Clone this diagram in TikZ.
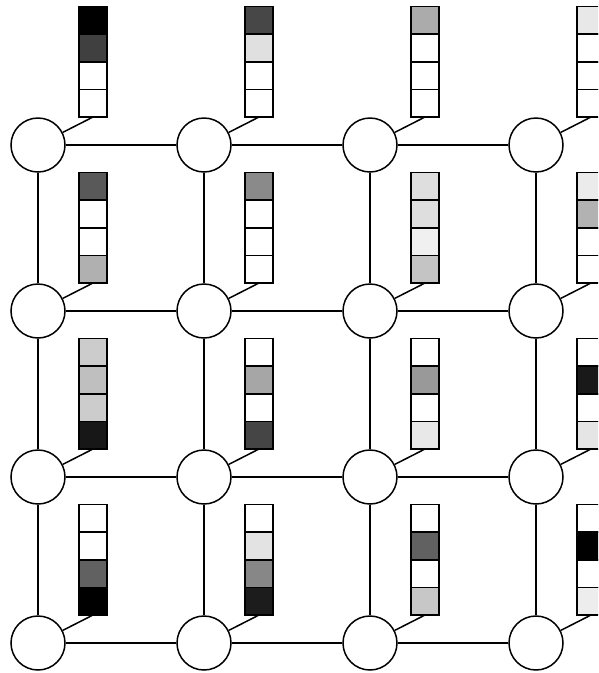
\documentclass[tikz,border=0pt]{standalone}
\usetikzlibrary{positioning}
\tikzset{
  site/.style={draw, circle, line width=1.5pt, minimum size=54pt, inner sep=0pt, fill=white},
  cell/.style={draw, line width=1.5pt, minimum size=27.6pt, inner sep=0pt, outer sep=0pt},
  link/.style={line width=1.5pt},
}
\begin{document}
\begin{tikzpicture}[x=1pt, y=-1pt]
    \clip (0,0) rectangle (598,673);
    % lattice sites
    \foreach \r/\y in {1/145, 2/311, 3/477, 4/643}
      \foreach \c/\x in {1/38, 2/204, 3/370, 4/536}
        \node[site] (s\r\c) at (\x,\y) {};
    % lattice bonds
    \foreach \r in {1,2,3,4} {
      \draw[link] (s\r1) -- (s\r2); \draw[link] (s\r2) -- (s\r3); \draw[link] (s\r3) -- (s\r4);
    }
    \foreach \c in {1,2,3,4} {
      \draw[link] (s1\c) -- (s2\c); \draw[link] (s2\c) -- (s3\c); \draw[link] (s3\c) -- (s4\c);
    }
    % state column of each site, top to bottom (percent white)
    \foreach \r/\c/\ga/\gb/\gc/\gd in {
        1/1/0/25/100/100,   1/2/28/88/100/100,  1/3/67/100/100/100, 1/4/91/100/100/100,
        2/1/35/100/100/69,  2/2/54/100/100/100, 2/3/87/87/94/77,    2/4/92/70/100/100,
        3/1/80/75/80/9,     3/2/100/65/100/27,  3/3/100/60/100/91,  3/4/100/10/100/90,
        4/1/100/100/38/0,   4/2/100/89/53/11,   4/3/100/38/100/78,  4/4/100/0/100/93} {
      \node[cell, fill=white!\gd!black, anchor=south] (b\r\c4) at ([xshift=55pt, yshift=28pt]s\r\c.center) {};
      \node[cell, fill=white!\gc!black, above=0pt of b\r\c4] (b\r\c3) {};
      \node[cell, fill=white!\gb!black, above=0pt of b\r\c3] (b\r\c2) {};
      \node[cell, fill=white!\ga!black, above=0pt of b\r\c2] (b\r\c1) {};
      \draw[link] (s\r\c) -- (b\r\c4.south);
    }
\end{tikzpicture}
\end{document}
